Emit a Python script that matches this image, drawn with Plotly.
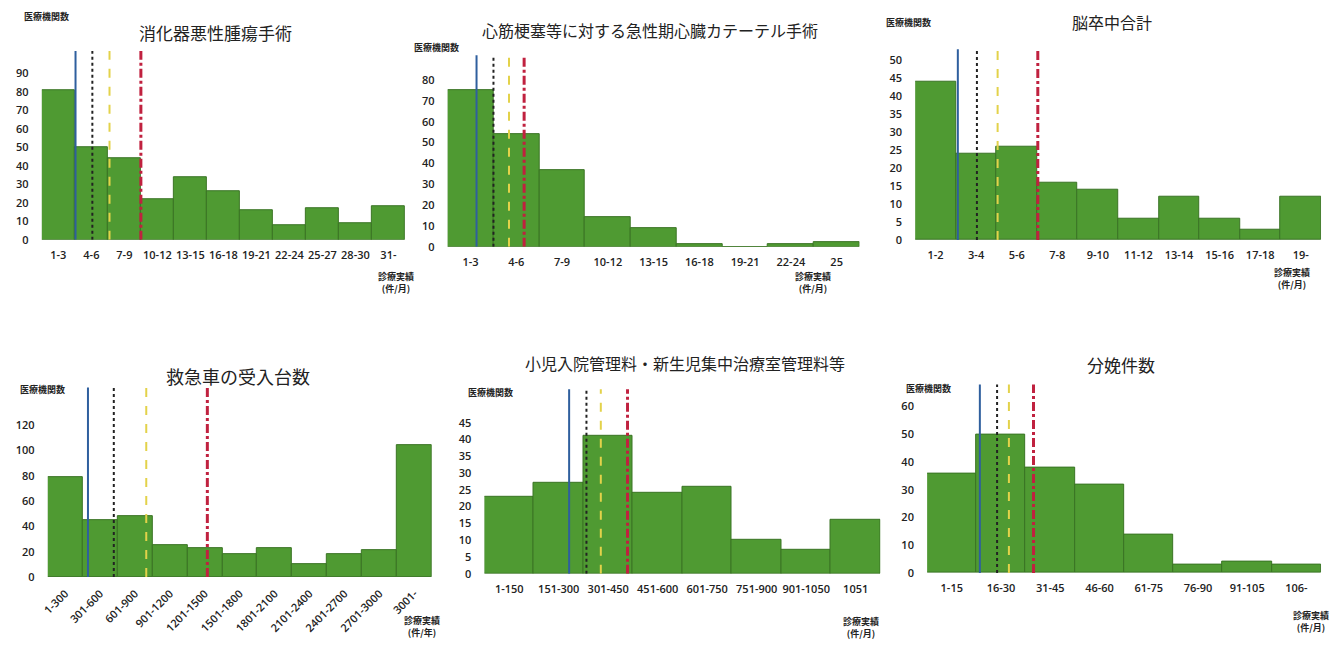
import plotly.graph_objects as go

# page body keeps an 8px margin, so the figure is drawn 8px smaller each way
OFF = 8
W, H = 1344 - 2 * OFF, 654 - 2 * OFF

# chart titles
titles = [
    "消化器悪性腫瘍手術",
    "心筋梗塞等に対する急性期心臓カテーテル手術",
    "脳卒中合計",
    "救急車の受入台数",
    "小児入院管理料・新生児集中治療室管理料等",
    "分娩件数",
]

# bins and counts (医療機関数) per chart
bins1 = ["1-3", "4-6", "7-9", "10-12", "13-15", "16-18", "19-21", "22-24", "25-27", "28-30", "31-"]
counts1 = [81, 50, 44, 22, 34, 26, 16, 8, 17, 9, 18]

bins2 = ["1-3", "4-6", "7-9", "10-12", "13-15", "16-18", "19-21", "22-24", "25"]
counts2 = [75, 54, 37, 14, 9, 1, 0, 1, 2]

bins3 = ["1-2", "3-4", "5-6", "7-8", "9-10", "11-12", "13-14", "15-16", "17-18", "19-"]
counts3 = [44, 24, 26, 16, 14, 6, 12, 6, 3, 12]

bins4 = ["1-300", "301-600", "601-900", "901-1200", "1201-1500", "1501-1800",
         "1801-2100", "2101-2400", "2401-2700", "2701-3000", "3001-"]
counts4 = [79, 45, 48, 25, 23, 18, 23, 10, 18, 21, 104]

bins5 = ["1-150", "151-300", "301-450", "451-600", "601-750", "751-900", "901-1050", "1051"]
counts5 = [23, 27, 41, 24, 26, 10, 7, 16]

bins6 = ["1-15", "16-30", "31-45", "46-60", "61-75", "76-90", "91-105", "106-"]
counts6 = [36, 50, 38, 32, 14, 3, 4, 3]

# reference lines, in bin units (blue, black dotted, yellow dashed, red dash-dot)
lines1 = [1.02, 1.53, 2.05, 3.0]
lines2 = [0.63, 1.0, 1.34, 1.67]
lines3 = [1.05, 1.52, 2.03, 3.02]
lines4 = [1.15, 1.89, 2.82, 4.57]
lines5 = [1.71, 2.06, 2.35, 2.89]
lines6 = [1.07, 1.42, 1.66, 2.16]

# y tick step per chart and x unit
ystep = [10, 10, 5, 20, 5, 10]
units = ["(件/月)", "(件/月)", "(件/月)", "(件/年)", "(件/月)", "(件/月)"]

data = [
    (bins1, counts1, lines1),
    (bins2, counts2, lines2),
    (bins3, counts3, lines3),
    (bins4, counts4, lines4),
    (bins5, counts5, lines5),
    (bins6, counts6, lines6),
]

# layout in window pixels: plot x-span, baseline y, px per unit, y max, top tick,
# title centre + size, y-label centre, x-label top centre
boxes = [
    dict(x=(35, 400), base=242.3, s=1.870, ymax=103, top=90,
         title=(210, 33, 17), ylab=(40, 17), xlab=(391, 271)),
    dict(x=(443, 857), base=249.3, s=2.104, ymax=93, top=80,
         title=(646, 30, 16), ylab=(432, 48), xlab=(810, 271)),
    dict(x=(913, 1321), base=242.7, s=3.64, ymax=54, top=50,
         title=(1111, 22, 16), ylab=(906, 23), xlab=(1292, 267)),
    dict(x=(41, 427), base=583.3, s=1.278, ymax=151, top=120,
         title=(232, 380, 18), ylab=(36, 394), xlab=(417, 619)),
    dict(x=(480, 878), base=580, s=3.393, ymax=56, top=45,
         title=(682, 367, 16), ylab=(486, 397), xlab=(858, 620)),
    dict(x=(925, 1321), base=579.3, s=2.805, ymax=69, top=60,
         title=(1120, 368, 17), ylab=(926, 393), xlab=(1311, 614)),
]


def px(x):
    return (x - OFF) / W


def py(y):
    return 1 - (y - OFF) / H


line_styles = [
    dict(color="#2f5f9e", width=2, dash="solid"),
    dict(color="#222222", width=2, dash="dot"),
    dict(color="#e3d24a", width=2, dash="dash"),
    dict(color="#c0213f", width=3, dash="dashdot"),
]

tick_font = dict(family="Open Sans, Noto Sans", size=11, color="#222222", weight=600)
lab_font = dict(family="Noto Sans CJK JP", size=9, color="#222222")

fig = go.Figure()
shapes = []
annotations = []
layout = {}

for i, ((bins, counts, lines), b) in enumerate(zip(data, boxes)):
    n = i + 1
    xa = "x" if n == 1 else f"x{n}"
    ya = "y" if n == 1 else f"y{n}"
    fig.add_trace(go.Bar(
        x=[k + 0.5 for k in range(len(bins))],
        y=counts,
        width=1,
        marker=dict(color="#4f9a32", line=dict(color="#3a7424", width=1)),
        xaxis=xa, yaxis=ya,
        showlegend=False,
        hovertemplate="%{y}<extra></extra>",
    ))

    x0, x1 = b["x"]
    layout["xaxis" if n == 1 else f"xaxis{n}"] = dict(
        domain=[px(x0), px(x1)], range=[0, len(bins)], anchor=ya,
        tickvals=[k + 0.5 for k in range(len(bins))], ticktext=bins,
        tickangle=-45 if n == 4 else 0,
        ticks="outside", ticklen=5, tickcolor="rgba(0,0,0,0)",
        showgrid=False, zeroline=False, showline=False,
        tickfont=tick_font, fixedrange=True,
    )
    layout["yaxis" if n == 1 else f"yaxis{n}"] = dict(
        domain=[py(b["base"]), py(b["base"] - b["ymax"] * b["s"])],
        range=[0, b["ymax"]], anchor=xa,
        tickvals=list(range(0, b["top"] + 1, ystep[i])),
        ticks="outside", ticklen=10, tickcolor="rgba(0,0,0,0)",
        showgrid=False, zeroline=False, showline=False,
        tickfont=tick_font, fixedrange=True,
    )

    # reference lines
    ltop = b["ymax"] - 1
    for pos, st in zip(lines, line_styles):
        shapes.append(dict(type="line", xref=xa, yref=ya, x0=pos, x1=pos,
                           y0=0, y1=ltop, line=st, layer="above"))

    tx, ty, ts = b["title"]
    annotations.append(dict(x=px(tx), y=py(ty), xref="paper", yref="paper",
                            xanchor="center", yanchor="middle",
                            text=titles[i], showarrow=False,
                            font=dict(family="Noto Sans CJK JP", size=ts, color="#222222")))
    lx, ly = b["ylab"]
    annotations.append(dict(x=px(lx), y=py(ly), xref="paper", yref="paper",
                            xanchor="center", yanchor="middle",
                            text="<b>医療機関数</b>", showarrow=False, font=lab_font))
    cx, cy = b["xlab"]
    annotations.append(dict(x=px(cx), y=py(cy), xref="paper", yref="paper",
                            xanchor="center", yanchor="top",
                            text=f"<b>診療実績</b><br><b>{units[i]}</b>", showarrow=False,
                            font=lab_font))

fig.update_layout(
    width=W, height=H,
    margin=dict(l=0, r=0, t=0, b=0),
    paper_bgcolor="#ffffff", plot_bgcolor="#ffffff",
    bargap=0,
    shapes=shapes,
    annotations=annotations,
    **layout,
)

fig.write_html("out.html")
